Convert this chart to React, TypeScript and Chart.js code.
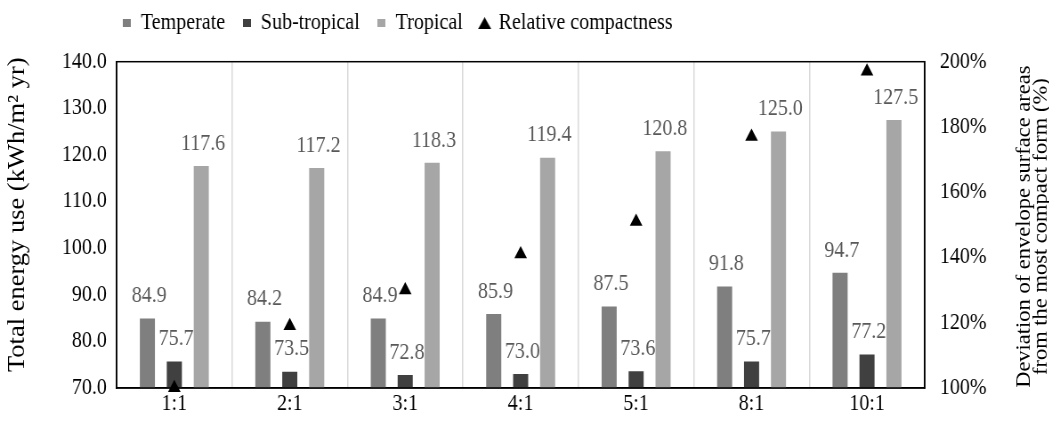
import React, { useEffect, useRef } from "react";
import { Chart, registerables } from "chart.js";

Chart.register(...registerables);

const categories = ["1:1", "2:1", "3:1", "4:1", "5:1", "8:1", "10:1"];
const temperate = [84.9, 84.2, 84.9, 85.9, 87.5, 91.8, 94.7];
const subTropical = [75.7, 73.5, 72.8, 73.0, 73.6, 75.7, 77.2];
const tropical = [117.6, 117.2, 118.3, 119.4, 120.8, 125.0, 127.5];
const compactness = [100, 119, 130, 141, 151, 177, 197];

const leftTicks = { min: 70, max: 140, step: 10 };
const rightTicks = { min: 100, max: 200, step: 20 };

const leftTitle = "Total energy use (kWh/m² yr)";
const rightTitle = ["Deviation of envelope surface areas", "from the most compact form (%)"];

const FONT = "'Liberation Serif', 'Times New Roman', serif";
const FS = 22.5;
const C_TEMP = "#7f7f7f";
const C_SUB = "#404040";
const C_TROP = "#a6a6a6";

// the reference is slightly condensed horizontally; draw wide, then squeeze
const SX = 0.89;
const W = 1179;
const H = 421;

function makeSquare(color: string) {
  const c = document.createElement("canvas");
  c.width = 9;
  c.height = 8;
  const ctx = c.getContext("2d")!;
  ctx.fillStyle = color;
  ctx.fillRect(0, 0, 9, 8);
  return c;
}
function makeTriangle() {
  const c = document.createElement("canvas");
  c.width = 15;
  c.height = 12;
  const ctx = c.getContext("2d")!;
  ctx.fillStyle = "#000";
  ctx.beginPath();
  ctx.moveTo(7.5, 0);
  ctx.lineTo(15, 12);
  ctx.lineTo(0, 12);
  ctx.closePath();
  ctx.fill();
  return c;
}

export default function App() {
  const ref = useRef<HTMLCanvasElement | null>(null);
  useEffect(() => {
    document.body.style.margin = "0";
    const canvas = ref.current!;
    const icons = [makeSquare(C_TEMP), makeSquare(C_SUB), makeSquare(C_TROP), makeTriangle()];

    const labelPlugin = {
      id: "barLabels",
      afterDatasetsDraw(chart: any) {
        const ctx = chart.ctx;
        ctx.save();
        ctx.font = `${FS}px ${FONT}`;
        ctx.fillStyle = "#595959";
        ctx.textAlign = "center";
        ctx.textBaseline = "bottom";
        [0, 1, 2].forEach((di) => {
          const meta = chart.getDatasetMeta(di);
          const data = chart.data.datasets[di].data as number[];
          meta.data.forEach((el: any, i: number) => {
            ctx.fillText(data[i].toFixed(1), el.x + 2, el.y - 11);
          });
        });
        ctx.restore();
      },
    };

    const legendShift = {
      id: "legendShift",
      afterLayout(chart: any) {
        if (chart.legend) {
          chart.legend.left = 118;
          chart.legend.top -= 8;
        }
      },
    };

    const framePlugin = {
      id: "frame",
      afterDraw(chart: any) {
        const { ctx, chartArea } = chart;
        ctx.save();
        ctx.strokeStyle = "#000";
        ctx.lineWidth = 1.5;
        ctx.strokeRect(chartArea.left, chartArea.top, chartArea.right - chartArea.left, chartArea.bottom - chartArea.top);
        ctx.fillStyle = "#000";
        ctx.textAlign = "center";
        ctx.textBaseline = "middle";
        // left axis title
        ctx.save();
        ctx.font = `26.5px ${FONT}`;
        ctx.translate(20, chartArea.top + 153);
        ctx.rotate(-Math.PI / 2);
        ctx.fillText(leftTitle, 0, 0);
        ctx.restore();
        // right axis title, reading bottom-to-top
        ctx.save();
        ctx.font = `${FS}px ${FONT}`;
        ctx.translate(1151, chartArea.top + 165);
        ctx.rotate(-Math.PI / 2);
        ctx.fillText(rightTitle[0], 0, 0);
        ctx.fillText(rightTitle[1], 0, 19);
        ctx.restore();
        ctx.restore();
      },
    };

    const tickFont = { family: FONT, size: FS };

    const chart = new Chart(canvas, {
      type: "bar",
      data: {
        labels: categories,
        datasets: [
          { label: "Temperate", data: temperate, backgroundColor: C_TEMP, yAxisID: "y", order: 2 },
          { label: "Sub-tropical", data: subTropical, backgroundColor: C_SUB, yAxisID: "y", order: 2 },
          { label: "Tropical", data: tropical, backgroundColor: C_TROP, yAxisID: "y", order: 2 },
          {
            type: "line",
            label: "Relative compactness",
            data: compactness,
            yAxisID: "y1",
            showLine: false,
            pointStyle: "triangle",
            pointRadius: 8.2,
            backgroundColor: "#000",
            borderColor: "#000",
            borderWidth: 0,
            clip: false,
            order: 1,
          } as any,
        ],
      },
      options: {
        animation: false,
        responsive: false,
        devicePixelRatio: 1,
        layout: { padding: { top: 0, left: 0, right: 0, bottom: 0 } },
        datasets: { bar: { categoryPercentage: 0.7, barPercentage: 0.56 } } as any,
        plugins: {
          tooltip: { enabled: false },
          title: {
            display: true,
            text: "",
            weight: 500,
            position: "top",
            font: { size: 1 },
            padding: { top: 0, bottom: 8 },
          } as any,
          legend: {
            position: "top",
            align: "start",
            fullSize: false,
            labels: {
              font: { family: FONT, size: FS },
              color: "#000",
              boxWidth: 9,
              boxHeight: 8,
              padding: 20,
              usePointStyle: true,
              sort: (a: any, b: any) => a.datasetIndex - b.datasetIndex,
              generateLabels: (chart: any) => {
                const items = Chart.defaults.plugins.legend.labels.generateLabels(chart);
                return items.map((it: any) => ({ ...it, pointStyle: icons[it.datasetIndex], lineWidth: 0 }));
              },
            },
          },
        },
        scales: {
          x: {
            grid: { offset: true, color: "#d9d9d9", lineWidth: 1.5, drawTicks: false },
            border: { color: "#000", width: 1.5 },
            ticks: { font: tickFont, color: "#000", padding: 3 },
            afterFit: (s: any) => {
              s.height = 33;
            },
          },
          y: {
            position: "left",
            min: leftTicks.min,
            max: leftTicks.max,
            ticks: {
              stepSize: leftTicks.step,
              font: tickFont,
              color: "#000",
              padding: 11,
              callback: (v: any) => Number(v).toFixed(1),
            },
            grid: { display: false, drawTicks: false },
            border: { color: "#000", width: 1.5 },
            afterFit: (s: any) => {
              s.width = 131;
            },
          },
          y1: {
            position: "right",
            min: rightTicks.min,
            max: rightTicks.max,
            ticks: {
              stepSize: rightTicks.step,
              font: tickFont,
              color: "#000",
              padding: 17,
              callback: (v: any) => `${v}%`,
            },
            grid: { display: false, drawTicks: false },
            border: { color: "#000", width: 1.5 },
            afterFit: (s: any) => {
              s.width = 140;
            },
          },
        },
      },
      plugins: [legendShift, labelPlugin, framePlugin],
    });
    return () => chart.destroy();
  }, []);
  return (
    <div style={{ width: 1049, height: H, overflow: "hidden" }}>
      <div style={{ width: W, height: H, transform: `scaleX(${SX})`, transformOrigin: "0 0" }}>
        <canvas ref={ref} width={W} height={H} style={{ display: "block", width: W, height: H }} />
      </div>
    </div>
  );
}
